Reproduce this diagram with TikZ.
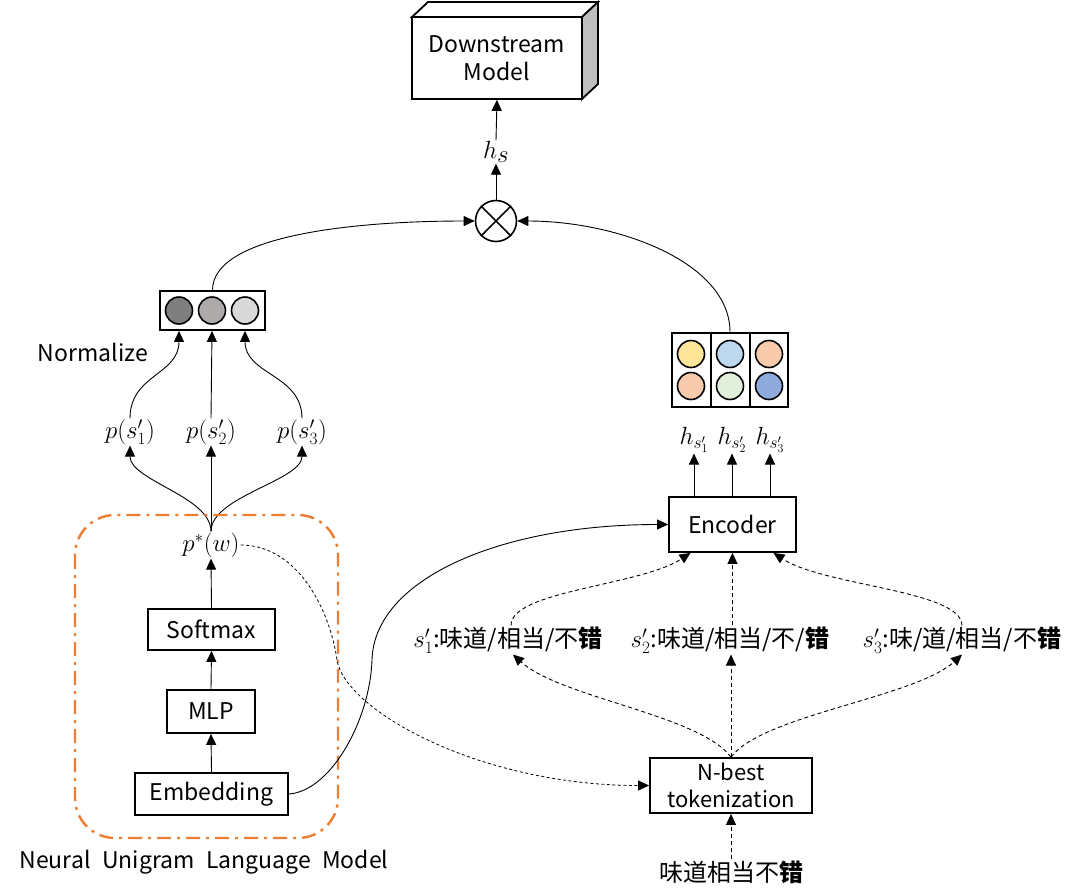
\documentclass[tikz,border=0pt]{standalone}
\usepackage{fontspec}
\setmainfont{Noto Sans CJK JP}
\usetikzlibrary{arrows.meta}
\definecolor{orng}{HTML}{ED7D31}
\definecolor{sidegray}{HTML}{BFBFBF}
\definecolor{gA}{HTML}{7F7F7F}
\definecolor{gB}{HTML}{AEAAAA}
\definecolor{gC}{HTML}{D9D9D9}
\definecolor{cyel}{HTML}{FFE699}
\definecolor{cpea}{HTML}{F8CBAD}
\definecolor{clbl}{HTML}{BDD7EE}
\definecolor{clgr}{HTML}{E2EFDA}
\definecolor{cblu}{HTML}{8FAADC}
\begin{document}
\begin{tikzpicture}[x=1pt,y=-1pt,
  font=\fontsize{23}{28}\selectfont,
  box/.style={draw, line width=1.8pt, inner sep=0pt, fill=white},
  conn/.style={line width=0.9pt, -{Triangle[width=10pt,length=11pt]}},
  dconn/.style={conn, dash pattern=on 4pt off 3pt},
  mlab/.style={inner sep=1pt, font=\fontsize{27}{29}\selectfont},
  cjk/.style={inner sep=1pt, font=\fontsize{24}{28}\selectfont},
  dot/.style={circle, draw, line width=1.6pt, minimum size=27pt, inner sep=0pt},
]
\useasboundingbox (0,0) rectangle (1069,895);

% Downstream model (3D box)
\filldraw[fill=white, line width=1.8pt, line join=miter] (412,17) -- (428,2) -- (598,2) -- (582,17) -- cycle;
\filldraw[fill=sidegray, line width=1.8pt, line join=miter] (582,17) -- (598,2) -- (598,84) -- (582,99) -- cycle;
\node[box, minimum width=170pt, minimum height=82pt, align=center] (down) at (497,58) {Downstream\\Model};

% h_s and otimes
\node[inner sep=1pt, font=\fontsize{35}{37}\selectfont] (hs) at (496,152) {$h_s$};
\node[circle, draw, line width=1.6pt, minimum size=41pt, inner sep=0pt] (ot) at (496,221) {};
\draw[line width=1.6pt] (ot.north west) -- (ot.south east) (ot.north east) -- (ot.south west);
\draw[conn] (ot.north) -- (hs.south);
\draw[conn] (hs.north) -- (down.south);

% Left normalized box
\node[box, minimum width=105pt, minimum height=39pt] (lbox) at (212.5,310.5) {};
\node[dot, fill=gA] (c1) at (179,310.5) {};
\node[dot, fill=gB] (c2) at (212,310.5) {};
\node[dot, fill=gC] (c3) at (245,310.5) {};
\node (norm) at (93,352) {Normalize};

% Right encoded box
\node[box, minimum width=116pt, minimum height=74pt] (rbox) at (730,370) {};
\draw[line width=1.8pt] (711,333) -- (711,407) (750,333) -- (750,407);
\node[dot, fill=cyel] (r1) at (691,354) {};
\node[dot, fill=cpea] (r2) at (691,386) {};
\node[dot, fill=clbl] (r3) at (730,354) {};
\node[dot, fill=clgr] (r4) at (730,386) {};
\node[dot, fill=cpea] (r5) at (769,354) {};
\node[dot, fill=cblu] (r6) at (769,386) {};

\draw[conn] (lbox.north) .. controls +(0,-55) and +(-120,0) .. (ot.west);
\draw[conn] (rbox.north) .. controls +(0,-70) and +(100,0) .. (ot.east);

% probabilities
\node[mlab] (p1) at (130,432) {$p(s'_1)$};
\node[mlab] (p2) at (211,432) {$p(s'_2)$};
\node[mlab] (p3) at (302,432) {$p(s'_3)$};
\node[mlab] (pw) at (211,545) {$p^*(w)$};

\draw[conn] (p1.north) .. controls +(0,-44) and +(0,44) .. (lbox.south -| c1);
\draw[conn] (p2.north) -- (lbox.south -| c2);
\draw[conn] (p3.north) .. controls +(0,-44) and +(0,44) .. (lbox.south -| c3);

\draw[conn] (pw.north) .. controls +(0,-35) and +(0,35) .. (p1.south);
\draw[conn] (pw.north) -- (p2.south);
\draw[conn] (pw.north) .. controls +(0,-35) and +(0,35) .. (p3.south);

% Neural unigram LM
\draw[orng, line width=2.4pt, rounded corners=40pt, dash pattern=on 14pt off 6pt on 3pt off 6pt] (75,515) rectangle (338,838);
\node[box, minimum width=127pt, minimum height=41pt] (soft) at (211.5,629.5) {Softmax};
\node[box, minimum width=88pt, minimum height=43pt] (mlp) at (211,711.5) {MLP};
\node[box, minimum width=153pt, minimum height=42pt] (emb) at (211.5,794) {Embedding};
\node (nulm) at (204,862) {Neural\hspace{0.5em}Unigram\hspace{0.5em}Language\hspace{0.5em}Model};
\draw[conn] (emb.north) -- (mlp.south);
\draw[conn] (mlp.north) -- (soft.south);
\draw[conn] (soft.north) -- (pw.south);

% Encoder and h labels
\node[box, minimum width=127pt, minimum height=55pt] (enc) at (732.5,524.5) {Encoder};
\node[mlab, font=\fontsize{26}{28}\selectfont] (h1) at (694,440) {$h_{s'_1}$};
\node[mlab, font=\fontsize{26}{28}\selectfont] (h2) at (732,440) {$h_{s'_2}$};
\node[mlab, font=\fontsize{26}{28}\selectfont] (h3) at (770,440) {$h_{s'_3}$};
\draw[conn] (enc.north -| h1) -- (h1.south);
\draw[conn] (enc.north -| h2) -- (h2.south);
\draw[conn] (enc.north -| h3) -- (h3.south);

% N-best
\node[box, minimum width=162pt, minimum height=55pt, align=center, font=\fontsize{22}{27}\selectfont] (nb) at (731,785.5) {N-best\\tokenization};
\node[cjk] (src) at (731,872) {味道相当不\textbf{错}};
\draw[dconn] (src.north) -- (nb.south);

% segmentations
\node[cjk] (sl1) at (508,640) {$s'_1$:味道/相当/不\textbf{错}};
\node[cjk] (sl2) at (730,640) {$s'_2$:味道/相当/不/\textbf{错}};
\node[cjk] (sl3) at (962,640) {$s'_3$:味/道/相当/不\textbf{错}};

\draw[dconn] (nb.north) .. controls +(-31,-42) and +(47,43) .. ([xshift=5pt]sl1.south);
\draw[dconn] (nb.north) -- (sl2.south -| nb.north);
\draw[dconn] (nb.north) .. controls +(31,-42) and +(-47,43) .. (sl3.south);

\draw[dconn] ([xshift=3pt]sl1.north) .. controls +(0,-35) and +(-50,33) .. ([xshift=-42pt]enc.south);
\draw[dconn] (sl2.north -| enc.south) -- (enc.south);
\draw[dconn] (sl3.north) .. controls +(0,-35) and +(50,33) .. ([xshift=41pt]enc.south);

% cross connections
\draw[conn] (emb.east) .. controls +(42,-3) and +(-2,60) .. (372,660) .. controls +(2,-80) and +(-170,0) .. (enc.west);
\draw[dconn, dash pattern=on 3pt off 2.5pt, line width=0.8pt] (pw.east) .. controls +(57,0) and +(-7,-50) .. (337,660) .. controls +(8,50) and +(-170,0) .. (nb.west);
\end{tikzpicture}
\end{document}
